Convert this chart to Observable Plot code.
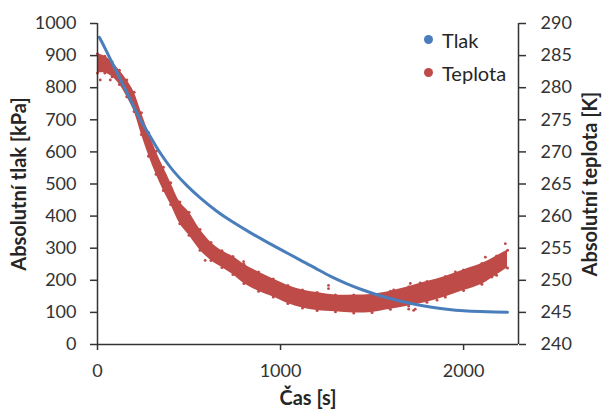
<!DOCTYPE html>
<html><head><meta charset="utf-8">
<script src="https://cdn.jsdelivr.net/npm/d3@7"></script>
<script src="https://cdn.jsdelivr.net/npm/@observablehq/plot@0.6"></script>
<style>
body{margin:0;background:#fff;font-family:Lato,sans-serif;}
#wrap{position:relative;width:602px;height:409px;}
#legend{position:absolute;left:424px;top:23px;font-size:20px;color:#262626;}
#legend div{display:flex;align-items:center;height:33px;}
#legend span.sw{display:inline-block;width:9px;height:9px;border-radius:50%;margin-right:9px;}
g[aria-label="y-axis label"] text, g[aria-label="x-axis label"] text{font-weight:bold;fill:#262626;font-size:20px;}
</style></head>
<body><div id="wrap"><div id="legend"></div></div>
<script>
// Pressure (Tlak) – line series, kPa
const pressureTime = [10, 40, 70, 100, 150, 200, 240, 280, 320, 370, 420, 490, 561, 650, 735, 830, 926, 1017, 1108, 1190, 1271, 1360, 1454, 1545, 1636, 1727, 1818, 1909, 2000, 2091, 2170, 2240];
const pressureKPa  = [957, 924, 889, 855, 797, 739, 694, 656, 617, 574, 537, 494, 457, 416, 383, 350, 319, 291, 263, 238, 213, 190, 169, 152, 138, 126, 117, 110, 105, 102.5, 101.3, 100.8];

// Temperature (Teplota) – dense noisy scatter, read as lower / upper edge of the band, K
const tempTime = [0, 40, 80, 120, 160, 200, 240, 280, 320, 360, 400, 450, 500, 560, 620, 680, 740, 800, 880, 960, 1040, 1120, 1200, 1300, 1400, 1500, 1600, 1700, 1800, 1900, 2000, 2100, 2180, 2240];
const tempLow  = [282.3, 282.3, 281.7, 280.5, 278.6, 276.3, 272.7, 269.4, 266.5, 264.0, 261.8, 258.8, 257.0, 254.7, 253.1, 252.0, 250.9, 249.5, 248.3, 247.4, 246.4, 245.7, 245.3, 245.1, 244.9, 245.0, 245.5, 246.0, 246.6, 247.4, 248.4, 249.4, 250.8, 251.9];
const tempHigh = [285.3, 284.9, 284.0, 282.7, 281.2, 279.3, 276.1, 273.0, 270.1, 267.6, 265.2, 262.2, 260.6, 257.9, 255.9, 254.6, 253.7, 252.5, 251.3, 250.2, 249.2, 248.5, 248.1, 247.7, 247.7, 247.8, 248.3, 249.0, 249.8, 250.6, 251.6, 252.6, 253.8, 254.7];
// stray temperature points outside the band
const strayTime = [15, 70, 279, 588, 798, 1262, 1262, 1618, 1700, 1709, 1727, 1736, 1763, 1855, 1863, 1955, 2119, 2155, 2228];
const strayTemp = [281.2, 281.2, 269.3, 253.1, 252.9, 249.2, 248.7, 248.5, 245.5, 249.5, 245.3, 245.5, 249.6, 246.9, 250.0, 251.3, 253.6, 250.5, 255.7];

const leftTicks  = [0, 100, 200, 300, 400, 500, 600, 700, 800, 900, 1000];
const rightTicks = [240, 245, 250, 255, 260, 265, 270, 275, 280, 285, 290];
const xTicks     = [0, 1000, 2000];
const xDomain = [0, 2300];
const pDomain = [0, 1000];
const tDomain = [240, 290];
const seriesNames  = ["Tlak", "Teplota"];
const seriesColors = ["#4A7EBB", "#BE4B48"];

// temperature axis is a linear re-mapping onto the pressure scale
const toP = T => (T - tDomain[0]) / (tDomain[1] - tDomain[0]) * (pDomain[1] - pDomain[0]) + pDomain[0];
const rightLabel = new Map(rightTicks.map(T => [toP(T), T]));
const plain = d => String(d);

const pRows = pressureTime.map((t, i) => ({t, p: pressureKPa[i]}));
const tRows = tempTime.map((t, i) => ({t, lo: toP(tempLow[i]), hi: toP(tempHigh[i])}));
const sRows = strayTime.map((t, i) => ({t, v: toP(strayTemp[i])}));

const red = seriesColors[1], blue = seriesColors[0];
const chart = Plot.plot({
  width: 602, height: 409,
  marginLeft: 97, marginRight: 84, marginTop: 23, marginBottom: 65,
  style: {fontFamily: "Lato, sans-serif", fontSize: "18px", color: "#333", background: "#fff", overflow: "visible"},
  x: {domain: xDomain},
  y: {domain: pDomain},
  marks: [
    Plot.areaY(tRows, {x: "t", y1: "lo", y2: "hi", fill: red, curve: "catmull-rom"}),
    Plot.dot(tRows, {x: "t", y: "lo", r: 1.5, fill: red}),
    Plot.dot(tRows, {x: "t", y: "hi", r: 1.5, fill: red}),
    Plot.dot(sRows, {x: "t", y: "v", r: 1.4, fill: red}),
    Plot.line(pRows, {x: "t", y: "p", stroke: blue, strokeWidth: 3, curve: "natural"}),
    Plot.ruleX([xDomain[0]], {stroke: "#333", strokeWidth: 1.5}),
    Plot.ruleX([xDomain[1]], {stroke: "#333", strokeWidth: 1.5}),
    Plot.ruleY([pDomain[0]], {stroke: "#333", strokeWidth: 1.5}),
    Plot.axisY({ticks: leftTicks, tickFormat: plain, tickSize: 7, tickPadding: 14, stroke: "#333", strokeWidth: 1.5,
      label: "Absolutní tlak [kPa]", labelAnchor: "center", labelArrow: "none", labelOffset: 86}),
    Plot.axisY({anchor: "right", ticks: rightTicks.map(toP), tickFormat: d => rightLabel.get(d), tickSize: 7, tickPadding: 15,
      stroke: "#333", strokeWidth: 1.5,
      label: "Absolutní teplota [K]", labelAnchor: "center", labelArrow: "none", labelOffset: 78}),
    Plot.axisX({ticks: xTicks, tickFormat: plain, tickSize: 6, tickPadding: 14, stroke: "#333", strokeWidth: 1.5,
      label: "Čas [s]", labelAnchor: "center", labelArrow: "none", labelOffset: 60})
  ]
});
document.getElementById("wrap").prepend(chart);

const legend = document.getElementById("legend");
seriesNames.forEach((n, i) => {
  const row = document.createElement("div");
  row.innerHTML = `<span class="sw" style="background:${seriesColors[i]}"></span>${n}`;
  legend.appendChild(row);
});
</script>
</body></html>
